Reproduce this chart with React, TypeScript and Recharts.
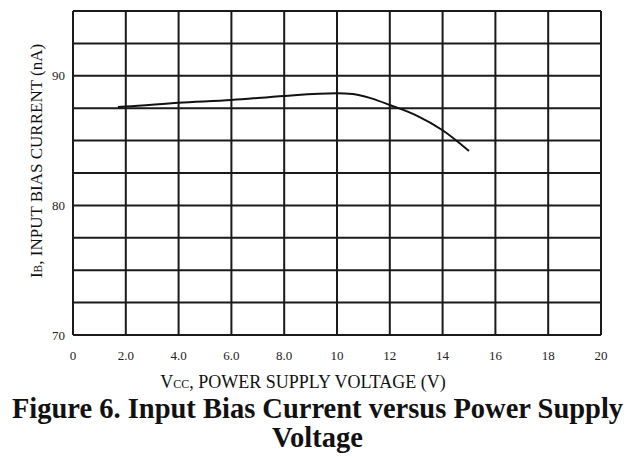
import { LineChart, Line, XAxis, YAxis, CartesianGrid } from 'recharts';

// supply voltage (V) and input bias current (nA)
const vcc = [1.7, 2, 4, 6, 8, 10, 10.6, 11.3, 12, 13, 14, 15];
const ib = [87.6, 87.63, 87.92, 88.13, 88.45, 88.65, 88.6, 88.26, 87.75, 86.95, 85.8, 84.2];

const xTicks = [0, 2, 4, 6, 8, 10, 12, 14, 16, 18, 20];
const yTicks = [70, 72.5, 75, 77.5, 80, 82.5, 85, 87.5, 90, 92.5, 95];
const yLabelled = [70, 80, 90];

const data = vcc.map((v, i) => ({ vcc: v, ib: ib[i] }));

const FONT = '"Liberation Serif", "Times New Roman", serif';

// 2.0 ... 8.0 have a decimal, 0 and 10+ don't
function formatX(v: number) {
  return v > 0 && v < 10 ? v.toFixed(1) : String(v);
}

function formatY(v: number) {
  return yLabelled.includes(v) ? String(v) : '';
}

function XLabel() {
  return (
    <text x={303} y={388} textAnchor="middle" fontFamily={FONT} fontSize={18} fill="#111">
      <tspan>V</tspan>
      <tspan fontSize={12}>CC</tspan>
      <tspan>, POWER SUPPLY VOLTAGE (V)</tspan>
    </text>
  );
}

function YLabel() {
  return (
    <text
      x={0}
      y={0}
      transform="translate(42, 161) rotate(-90)"
      textAnchor="middle"
      fontFamily={FONT}
      fontSize={17}
      fill="#111"
    >
      <tspan>I</tspan>
      <tspan fontSize={11.5}>B</tspan>
      <tspan>, INPUT BIAS CURRENT (nA)</tspan>
    </text>
  );
}

export default function App() {
  return (
    <div style={{ position: 'absolute', left: 0, top: 0, width: 635, height: 457, background: '#fff' }}>
      <LineChart width={635} height={457} data={data} margin={{ top: 11, right: 34, left: 0, bottom: 92 }}>
        <CartesianGrid stroke="#1a1a1a" strokeWidth={2} />
        <XAxis
          dataKey="vcc"
          type="number"
          domain={[0, 20]}
          ticks={xTicks}
          tickFormatter={formatX}
          tickLine={false}
          axisLine={{ stroke: '#1a1a1a', strokeWidth: 2 }}
          tickMargin={10}
          height={30}
          tick={{ fill: '#222', fontSize: 13, fontFamily: FONT }}
          label={<XLabel />}
        />
        <YAxis
          type="number"
          domain={[70, 95]}
          ticks={yTicks}
          tickFormatter={formatY}
          tickLine={false}
          axisLine={{ stroke: '#1a1a1a', strokeWidth: 2 }}
          width={73}
          interval={0}
          tick={{ fill: '#222', fontSize: 13, fontFamily: FONT }}
          label={<YLabel />}
        />
        <Line
          dataKey="ib"
          type="monotone"
          stroke="#111"
          strokeWidth={2}
          dot={false}
          isAnimationActive={false}
        />
      </LineChart>
      <div
        style={{
          position: 'absolute',
          left: 0,
          top: 394,
          width: 635,
          textAlign: 'center',
          fontFamily: FONT,
          fontWeight: 'bold',
          fontSize: 28.5,
          lineHeight: '29px',
          color: '#111',
          whiteSpace: 'nowrap',
        }}
      >
        Figure 6. Input Bias Current versus Power Supply
        <br />
        Voltage
      </div>
    </div>
  );
}
